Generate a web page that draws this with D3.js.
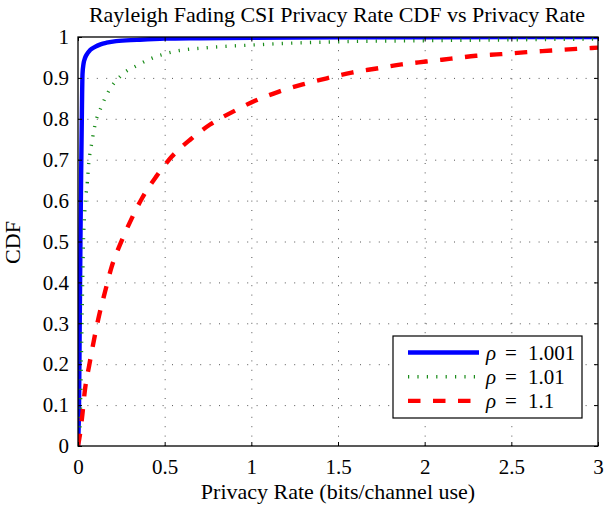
<!DOCTYPE html>
<html>
<head>
<meta charset="utf-8">
<script src="https://cdn.jsdelivr.net/npm/d3@7"></script>
<style>
  html, body { margin: 0; padding: 0; background: #fff; }
  svg { display: block; }
</style>
</head>
<body>
<svg id="chart" width="605" height="506"></svg>
<script>
// Empirical CDFs of the privacy rate for three values of rho
const rateBlue = [0, 0.006, 0.01, 0.014, 0.018, 0.022, 0.026, 0.032, 0.04, 0.05, 0.07, 0.098, 0.13, 0.165, 0.22, 0.34, 0.5, 0.7, 1.0, 1.5, 2.0, 3.0];
const cdfBlue  = [0, 0.1, 0.3, 0.5, 0.66, 0.8, 0.91, 0.935, 0.948, 0.957, 0.968, 0.976, 0.982, 0.986, 0.99, 0.993, 0.996, 0.997, 0.998, 0.999, 0.9995, 1.0];

const rateGreen = [0, 0.008, 0.0115, 0.016, 0.021, 0.027, 0.031, 0.040, 0.054, 0.063, 0.079, 0.098, 0.131, 0.175, 0.252, 0.348, 0.450, 0.550, 0.75, 0.983, 1.3, 1.579, 2.0, 2.47, 3.0];
const cdfGreen  = [0, 0.02, 0.047, 0.13, 0.25, 0.40, 0.49, 0.58, 0.646, 0.695, 0.740, 0.785, 0.826, 0.866, 0.907, 0.932, 0.952, 0.964, 0.974, 0.980, 0.986, 0.989, 0.991, 0.993, 0.995];

const rateRed = [0, 0.012, 0.025, 0.040, 0.065, 0.092, 0.121, 0.156, 0.194, 0.246, 0.306, 0.371, 0.450, 0.540, 0.650, 0.762, 0.892, 1.021, 1.156, 1.296, 1.435, 1.579, 1.723, 1.867, 2.008, 2.152, 2.296, 2.44, 2.588, 2.733, 2.877, 3.0];
const cdfRed  = [0, 0.03, 0.076, 0.137, 0.198, 0.259, 0.318, 0.377, 0.438, 0.496, 0.553, 0.607, 0.658, 0.707, 0.750, 0.786, 0.817, 0.844, 0.866, 0.884, 0.899, 0.913, 0.923, 0.933, 0.940, 0.947, 0.954, 0.958, 0.963, 0.967, 0.971, 0.974];

const rhoLabels = ["1.001", "1.01", "1.1"];
const xTicks = [0, 0.5, 1, 1.5, 2, 2.5, 3];
const yTicks = [0, 0.1, 0.2, 0.3, 0.4, 0.5, 0.6, 0.7, 0.8, 0.9, 1];

const series = [
  { rate: rateBlue,  cdf: cdfBlue,  rho: rhoLabels[0], color: "#0000ff", width: 4.4, dash: null },
  { rate: rateGreen, cdf: cdfGreen, rho: rhoLabels[1], color: "#1a8c1a", width: 3.4, dash: "1.2,8.2" },
  { rate: rateRed,   cdf: cdfRed,   rho: rhoLabels[2], color: "#ff0000", width: 4.4, dash: "12.5,12.5" }
];

const SERIF = '"Liberation Serif", "Times New Roman", Times, serif';

const svg = d3.select("#chart");
const margin = { left: 78, top: 37, right: 7, bottom: 60 };
const W = 605, H = 506;
const pw = W - margin.left - margin.right;   // 520
const ph = H - margin.top - margin.bottom;   // 409

const x = d3.scaleLinear().domain([0, 3]).range([0, pw]);
const y = d3.scaleLinear().domain([0, 1]).range([ph, 0]);

const g = svg.append("g").attr("transform", `translate(${margin.left},${margin.top})`);

g.append("defs").append("clipPath").attr("id", "plotclip")
  .append("rect").attr("width", pw).attr("height", ph);

// dotted grid
const gridStyle = sel => {
  sel.select(".domain").remove();
  sel.selectAll("text").remove();
  sel.selectAll("line")
    .attr("stroke", "#000").attr("stroke-width", 0.9)
    .attr("stroke-dasharray", "1,8.4").attr("stroke-opacity", 0.75);
};
g.append("g").attr("transform", `translate(0,${ph})`)
  .call(d3.axisBottom(x).tickValues(xTicks.slice(1, -1)).tickSize(-ph)).call(gridStyle);
g.append("g")
  .call(d3.axisLeft(y).tickValues(yTicks.slice(1, -1)).tickSize(-pw)).call(gridStyle);

// curves
const line = d3.line().curve(d3.curveMonotoneX);
const plot = g.append("g").attr("clip-path", "url(#plotclip)");
series.forEach(s => {
  const pts = s.rate.map((r, i) => [x(r), y(s.cdf[i])]);
  plot.append("path")
    .attr("d", line(pts))
    .attr("fill", "none")
    .attr("stroke", s.color)
    .attr("stroke-width", s.width)
    .attr("stroke-dasharray", s.dash)
    .attr("stroke-linejoin", "round");
});

// axes with inward ticks on all four sides
const axisStyle = sel => {
  sel.attr("font-family", SERIF).attr("font-size", 21);
  sel.select(".domain").remove();
  sel.selectAll("line").attr("stroke", "#000").attr("stroke-width", 1);
  sel.selectAll("text").attr("fill", "#000")
    .style("font-family", SERIF).style("font-size", "21px");
};
const fmt = d => d3.format("")(d);
g.append("g").attr("transform", `translate(0,${ph})`)
  .call(d3.axisBottom(x).tickValues(xTicks).tickFormat(fmt).tickSizeInner(-4).tickSizeOuter(0).tickPadding(13))
  .call(axisStyle);
g.append("g")
  .call(d3.axisLeft(y).tickValues(yTicks).tickFormat(fmt).tickSizeInner(-4).tickSizeOuter(0).tickPadding(9))
  .call(axisStyle);
g.append("g")
  .call(d3.axisTop(x).tickValues(xTicks).tickFormat("").tickSizeInner(-4).tickSizeOuter(0))
  .call(axisStyle);
g.append("g").attr("transform", `translate(${pw},0)`)
  .call(d3.axisRight(y).tickValues(yTicks).tickFormat("").tickSizeInner(-4).tickSizeOuter(0))
  .call(axisStyle);

// frame
g.append("rect").attr("width", pw).attr("height", ph)
  .attr("fill", "none").attr("stroke", "#000").attr("stroke-width", 1.3);

// title and axis labels
const label = (xx, yy, str) => svg.append("text")
  .attr("x", xx).attr("y", yy).attr("text-anchor", "middle")
  .style("font-family", SERIF).style("font-size", "22px").attr("fill", "#000")
  .text(str);
label(margin.left + pw / 2 - 1, 22, "Rayleigh Fading CSI Privacy Rate CDF vs Privacy Rate");
label(margin.left + pw / 2, 499, "Privacy Rate (bits/channel use)");
label(0, 0, "CDF").attr("transform", `translate(20,${margin.top + ph / 2 + 1}) rotate(-90)`);

// legend
const lg = g.append("g").attr("transform", `translate(${393 - margin.left},${336 - margin.top})`);
lg.append("rect").attr("width", 189).attr("height", 82)
  .attr("fill", "#fff").attr("stroke", "#000").attr("stroke-width", 1.2);
series.forEach((s, i) => {
  const cy = 16.5 + i * 24.2;
  lg.append("line").attr("x1", 15).attr("x2", 86).attr("y1", cy).attr("y2", cy)
    .attr("stroke", s.color).attr("stroke-width", s.width)
    .attr("stroke-dasharray", s.dash);
  const t = lg.append("text").attr("y", cy + 7)
    .style("font-family", SERIF).style("font-size", "21px").attr("fill", "#000");
  t.append("tspan").attr("x", 93).style("font-style", "italic").text("ρ");
  t.append("tspan").attr("x", 112).text("=");
  t.append("tspan").attr("x", 135).text(s.rho);
});
</script>
</body>
</html>
